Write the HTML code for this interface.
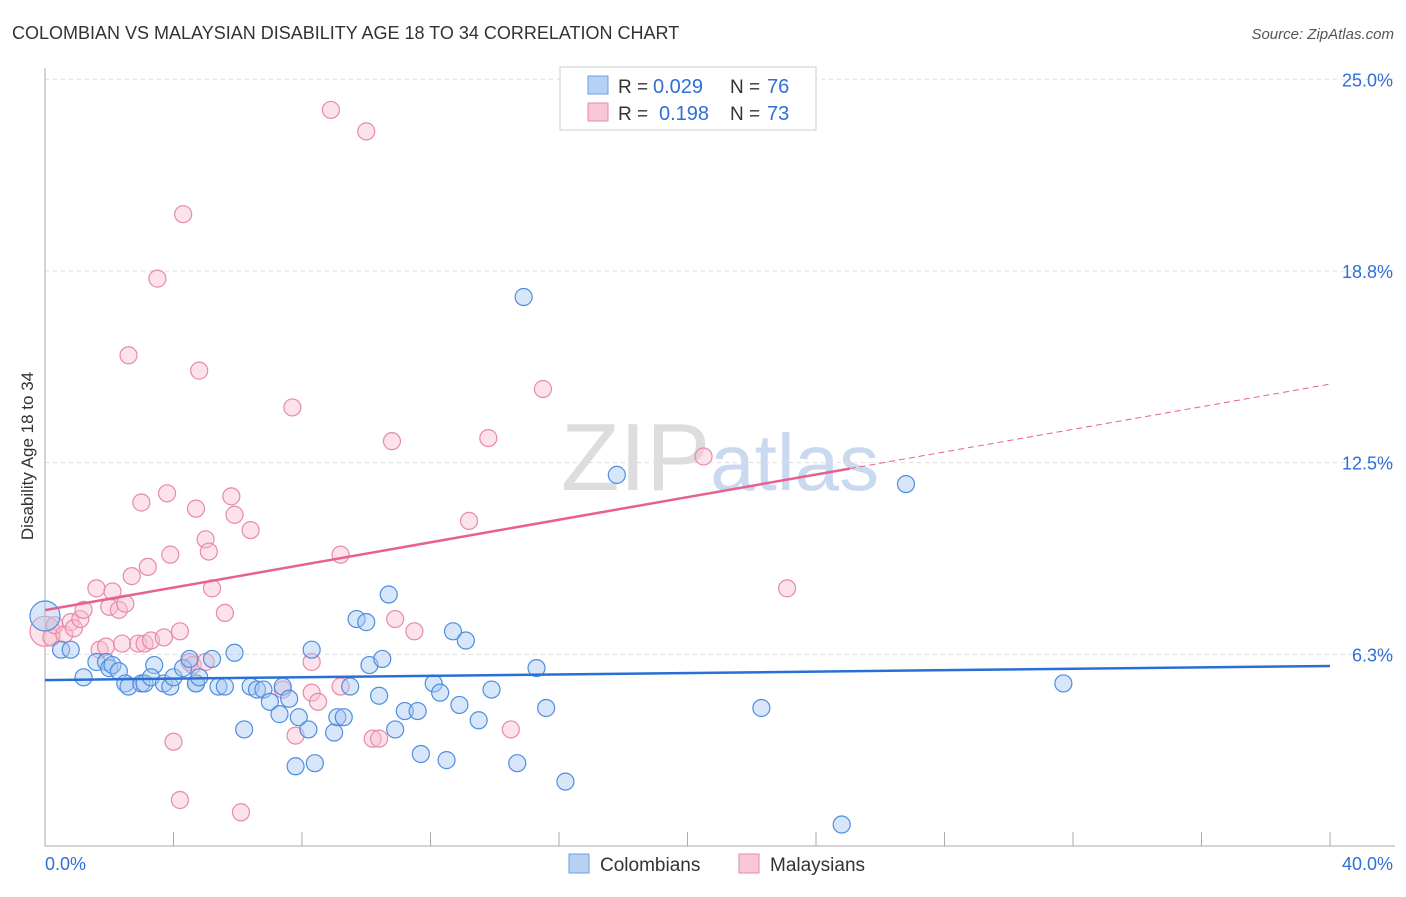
<!DOCTYPE html>
<html><head><meta charset="utf-8"><style>
body{margin:0;background:#fff;font-family:"Liberation Sans",sans-serif;}
svg text{font-family:"Liberation Sans",sans-serif;}
</style></head><body>
<svg id="chart" width="1406" height="892" xmlns="http://www.w3.org/2000/svg">
<text x="12" y="39" font-size="18" fill="#333">COLOMBIAN VS MALAYSIAN DISABILITY AGE 18 TO 34 CORRELATION CHART</text>
<text x="1394" y="39" font-size="15" fill="#555" text-anchor="end" font-style="italic">Source: ZipAtlas.com</text>
<text x="720" y="490" font-size="96" fill="#ddd" text-anchor="middle" font-family="Liberation Serif">ZIP<tspan fill="#c9d9ef" font-family="Liberation Sans" font-size="80">atlas</tspan></text>
<g id="grid"></g>
<g id="axes"></g>
<g id="marks"></g>
<text transform="translate(33,456) rotate(-90)" font-size="17" fill="#333" text-anchor="middle">Disability Age 18 to 34</text>
<g>
<rect x="560" y="67" width="256" height="63" fill="#fff" stroke="#ccc"/>
<rect x="588" y="76" width="20" height="18" fill="#b7d1f5" stroke="#6a9fe0"/>
<rect x="588" y="103" width="20" height="18" fill="#f8c7d5" stroke="#e88aa8"/>
<text x="618" y="93" font-size="19" fill="#333">R =</text>
<text x="653" y="93" font-size="20" fill="#2f6fd6">0.029</text>
<text x="730" y="93" font-size="19" fill="#333">N =</text>
<text x="767" y="93" font-size="20" fill="#2f6fd6">76</text>
<text x="618" y="120" font-size="19" fill="#333">R =</text>
<text x="659" y="120" font-size="20" fill="#2f6fd6">0.198</text>
<text x="730" y="120" font-size="19" fill="#333">N =</text>
<text x="767" y="120" font-size="20" fill="#2f6fd6">73</text>
</g>
<g>
<rect x="569" y="854" width="20" height="19" fill="#b7d1f5" stroke="#6a9fe0"/>
<text x="600" y="871" font-size="19" fill="#333">Colombians</text>
<rect x="739" y="854" width="20" height="19" fill="#f8c7d5" stroke="#e88aa8"/>
<text x="770" y="871" font-size="19" fill="#333">Malaysians</text>
</g>
</svg>
<script>
const yTicks=[25.0,18.75,12.5,6.25];
const yTickLabels=["25.0%","18.8%","12.5%","6.3%"];
const xTickLabels=["0.0%","40.0%"];
const blueX=[0,0.5,0.8,1.2,1.6,1.9,2.0,2.1,2.3,2.5,2.6,3.0,3.1,3.4,3.3,3.7,3.9,4.0,4.3,4.5,4.7,4.7,4.8,5.2,5.4,5.6,5.9,6.2,6.4,6.6,6.8,7.0,7.3,7.4,7.6,7.8,7.9,8.2,8.3,8.4,9.0,9.1,9.3,9.5,9.7,10.0,10.1,10.4,10.5,10.7,10.9,11.2,11.6,11.7,12.1,12.3,12.5,12.7,12.9,13.1,13.5,13.9,14.7,14.9,15.3,15.6,16.2,17.8,22.3,24.8,26.8,31.7];
const blueY=[7.5,6.4,6.4,5.5,6.0,6.0,5.8,5.9,5.7,5.3,5.2,5.3,5.3,5.9,5.5,5.3,5.2,5.5,5.8,6.1,5.3,5.3,5.5,6.1,5.2,5.2,6.3,3.8,5.2,5.1,5.1,4.7,4.3,5.2,4.8,2.6,4.2,3.8,6.4,2.7,3.7,4.2,4.2,5.2,7.4,7.3,5.9,4.9,6.1,8.2,3.8,4.4,4.4,3.0,5.3,5.0,2.8,7.0,4.6,6.7,4.1,5.1,2.7,17.9,5.8,4.5,2.1,12.1,4.5,0.7,11.8,5.3];
const pinkX=[0,0.2,0.3,0.6,0.8,0.9,1.1,1.2,1.6,1.7,1.9,2.0,2.1,2.3,2.4,2.5,2.6,2.7,2.9,3.0,3.1,3.2,3.3,3.5,3.7,3.8,3.9,4.0,4.2,4.2,4.3,4.5,4.6,4.7,4.8,5.0,5.0,5.1,5.2,5.6,5.8,5.9,6.1,6.4,7.4,7.7,7.8,8.3,8.3,8.5,8.9,9.2,9.2,10.0,10.2,10.4,10.8,10.9,11.5,13.2,13.8,14.5,15.5,20.5,23.1];
const pinkY=[7.0,6.8,7.2,6.9,7.3,7.1,7.4,7.7,8.4,6.4,6.5,7.8,8.3,7.7,6.6,7.9,16.0,8.8,6.6,11.2,6.6,9.1,6.7,18.5,6.8,11.5,9.5,3.4,7.0,1.5,20.6,6.0,5.9,11.0,15.5,6.0,10.0,9.6,8.4,7.6,11.4,10.8,1.1,10.3,5.1,14.3,3.6,6.0,5.0,4.7,24.0,5.2,9.5,23.3,3.5,3.5,13.2,7.4,7.0,10.6,13.3,3.8,14.9,12.7,8.4];
const blueTrend=[5.41,5.87];
const pinkTrend=[7.69,15.06];
const pinkSolidEnd=25.05;
const x0=45,x1=1330,yBase=846,pxPerUnit=30.67;
function sx(v){return x0+(v/40)*(x1-x0);}
function sy(v){return yBase-v*pxPerUnit;}
const NS="http://www.w3.org/2000/svg";
function mk(tag,attrs,parent){const e=document.createElementNS(NS,tag);for(const k in attrs)e.setAttribute(k,attrs[k]);parent.appendChild(e);return e;}
const grid=document.getElementById('grid'),axes=document.getElementById('axes'),marks=document.getElementById('marks');
yTicks.forEach((t,i)=>{
 const l=mk('line',{x1:45,x2:1395,y1:sy(t),y2:sy(t),stroke:'#ddd','stroke-dasharray':'4,4'},grid);
 
 
 const tx=mk('text',{x:1393,y:sy(t)+7,'font-size':18,fill:'#2f6fd6','text-anchor':'end'},axes);
 tx.textContent=yTickLabels[i];
 
 
});
const ax=mk('line',{x1:45,x2:45,y1:68,y2:846,stroke:'#aaa'},axes);


const bx=mk('line',{x1:45,x2:1395,y1:846,y2:846,stroke:'#aaa'},axes);


for(let v=0;v<=40;v+=4){
 const t=mk('line',{x1:sx(v),x2:sx(v),y1:832,y2:846,stroke:'#aaa'},axes);
 
 
}
[[0,'start',45],[40,'end',1393]].forEach((a,i)=>{
 const t=mk('text',{x:a[2],y:870,'font-size':18,fill:'#2f6fd6','text-anchor':a[1]},axes);
 t.textContent=xTickLabels[i];
 
 
});
function dots(xs,ys,fill,stroke,name){
 xs.forEach((x,i)=>{
  const c=mk('circle',{cx:sx(x),cy:sy(ys[i]),r:(i===0?15:8.5),fill:fill,'fill-opacity':0.45,stroke:stroke,'stroke-width':1.2},marks);
  
  
 });
}
dots(pinkX,pinkY,'#f8bfd0','#e88aa8','malaysian-point');
dots(blueX,blueY,'#a9c8f2','#4f8de0','colombian-point');
function lerp(t,x){return t[0]+(t[1]-t[0])*x/40;}
const bl=mk('line',{x1:sx(0),y1:sy(lerp(blueTrend,0)),x2:sx(40),y2:sy(lerp(blueTrend,40)),stroke:'#2a6fd6','stroke-width':2.5},marks);


const pl=mk('line',{x1:sx(0),y1:sy(lerp(pinkTrend,0)),x2:sx(pinkSolidEnd),y2:sy(lerp(pinkTrend,pinkSolidEnd)),stroke:'#e8608f','stroke-width':2.5},marks);


const pd=mk('line',{x1:sx(pinkSolidEnd),y1:sy(lerp(pinkTrend,pinkSolidEnd)),x2:sx(40),y2:sy(lerp(pinkTrend,40)),stroke:'#e8608f','stroke-width':1,'stroke-dasharray':'6,4'},marks);


</script>
</body></html>
